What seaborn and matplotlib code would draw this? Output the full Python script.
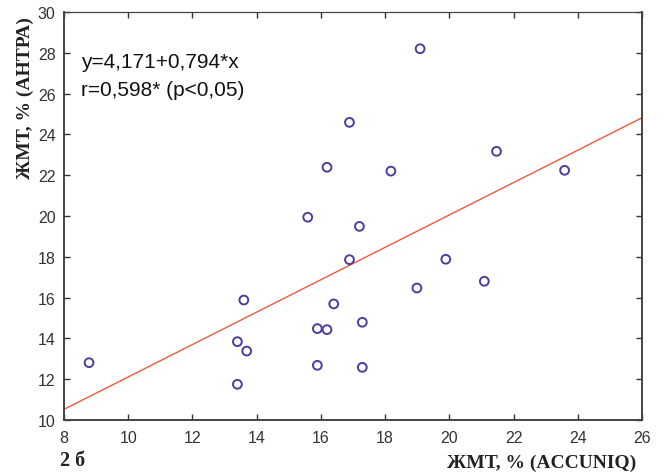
import numpy as np
import pandas as pd
import matplotlib
matplotlib.use("Agg")
import matplotlib.pyplot as plt
import seaborn as sns

# data
x_accuniq = [8.78, 13.40, 13.40, 13.60, 13.69, 15.59, 15.89, 15.89, 16.19, 16.19,
             16.40, 16.89, 16.89, 17.20, 17.29, 17.29, 18.18, 18.99, 19.09, 19.89,
             21.09, 21.47, 23.59]
y_antra = [12.81, 13.84, 11.75, 15.88, 13.38, 19.94, 14.48, 12.68, 14.43, 22.39,
           15.69, 24.59, 17.86, 19.49, 14.79, 12.58, 22.20, 16.47, 28.20, 17.88,
           16.80, 23.17, 22.24]
intercept = 4.171
slope = 0.794
x_range = [8, 26]
x_ticks = [8, 10, 12, 14, 16, 18, 20, 22, 24, 26]
y_ticks = [10, 12, 14, 16, 18, 20, 22, 24, 26, 28, 30]
eq_text = "y=4,171+0,794*x"
r_text = "r=0,598* (p<0,05)"
xlabel = "ЖМТ, % (ACCUNIQ)"
ylabel = "ЖМТ, % (АНТРА)"
panel = "2 б"

sns.set_theme(style="white")
plt.rcParams['font.family'] = ['Liberation Sans', 'DejaVu Sans']

df = pd.DataFrame({"x": x_accuniq, "y": y_antra})
line_x = np.array(x_range, dtype=float)
line_df = pd.DataFrame({"x": line_x, "y": intercept + slope * line_x})

fig = plt.figure(figsize=(6.64, 4.77), dpi=100)
ax = fig.add_axes([64/664, 1 - 421/477, (642-64)/664, (421-13)/477])

sns.lineplot(data=line_df, x="x", y="y", ax=ax, color="#ec5a3c", linewidth=1.0)
sns.scatterplot(data=df, x="x", y="y", ax=ax, marker="o", s=40,
                facecolors="none", edgecolor="#4b3f9e", linewidth=1.4, zorder=3)

ax.set_xlim(8, 26)
ax.set_ylim(10, 30)
ax.set_xticks(x_ticks)
ax.set_yticks(y_ticks)
ax.set_xlabel("")
ax.set_ylabel("")
ax.tick_params(direction="in", length=4, width=1, color="#333333",
               top=True, right=True, bottom=True, left=True,
               labelsize=11.5, labelcolor="#333333")
ax.tick_params(axis="x", pad=7)
ax.tick_params(axis="y", pad=6)
for side, sp in ax.spines.items():
    sp.set_color("#444444")
    sp.set_linewidth(1.4 if side in ("left", "bottom", "right") else 0.9)
    sp.set_visible(True)

fig.text(81/664, 1 - 68/477, eq_text, fontsize=15, color="#111111",
         ha="left", va="baseline", family=['Liberation Sans'])
fig.text(81/664, 1 - 96/477, r_text, fontsize=15, color="#111111",
         ha="left", va="baseline", family=['Liberation Sans'])

fig.text(25/664, 1 - 98/477, ylabel, rotation=90, fontsize=14, fontweight="bold",
         family=['Liberation Serif'], ha="center", va="center", color="#222222")
fig.text(636/664, 1 - 463/477, xlabel, fontsize=14, fontweight="bold",
         family=['Liberation Serif'], ha="right", va="center", color="#222222")
fig.text(60/664, 1 - 461/477, panel, fontsize=14.5, fontweight="bold",
         family=['Liberation Serif'], ha="left", va="center", color="#222222")

fig.savefig("out.png", dpi=100)
